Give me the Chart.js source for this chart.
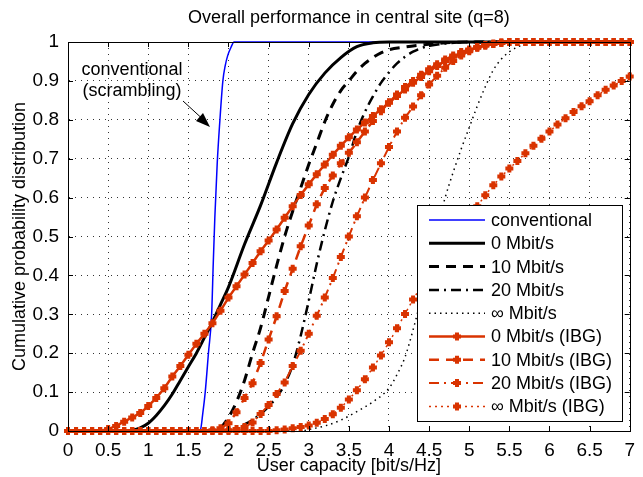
<!DOCTYPE html>
<html>
<head>
<meta charset="utf-8">
<script src="https://cdn.jsdelivr.net/npm/chart.js@4"></script>
<style>
  html, body { margin: 0; padding: 0; background: #fff; }
  #wrap { width: 643px; height: 477px; }
</style>
</head>
<body>
<div id="wrap"><canvas id="cdfChart" width="643" height="477"></canvas></div>
<script>
/* curvas CDF de capacidad por usuario (sitio central, q=8) */

// eje x compartido de las curvas IBG (un marcador por punto)
const capX = [
    0, 0.1, 0.2, 0.3, 0.4, 0.5, 0.6, 0.7, 0.8, 0.9,
    1, 1.1, 1.2, 1.3, 1.4, 1.5, 1.6, 1.7, 1.8, 1.9,
    2, 2.1, 2.2, 2.3, 2.4, 2.5, 2.6, 2.7, 2.8, 2.9,
    3, 3.1, 3.2, 3.3, 3.4, 3.5, 3.6, 3.7, 3.8, 3.9,
    4, 4.1, 4.2, 4.3, 4.4, 4.5, 4.6, 4.7, 4.8, 4.9,
    5, 5.1, 5.2, 5.3, 5.4, 5.5, 5.6, 5.7, 5.8, 5.9,
    6, 6.1, 6.2, 6.3, 6.4, 6.5, 6.6, 6.7, 6.8, 6.9,
    7
];

const ibg0 = [
    0, 0, 0, 0, 0, 0.005, 0.013, 0.024, 0.035, 0.046,
    0.064, 0.085, 0.11, 0.14, 0.167, 0.196, 0.224, 0.25, 0.277, 0.309,
    0.343, 0.372, 0.402, 0.432, 0.462, 0.49, 0.518, 0.548, 0.578, 0.607,
    0.634, 0.66, 0.685, 0.71, 0.733, 0.755, 0.775, 0.793, 0.81, 0.827,
    0.844, 0.861, 0.878, 0.895, 0.91, 0.925, 0.938, 0.951, 0.962, 0.971,
    0.979, 0.986, 0.991, 0.995, 0.998, 1, 1, 1, 1, 1,
    1, 1, 1, 1, 1, 1, 1, 1, 1, 1,
    1
];

const ibg10 = [
    0, 0, 0, 0, 0, 0, 0, 0, 0, 0,
    0, 0, 0, 0, 0, 0, 0, 0, 0.002, 0.007,
    0.02, 0.048, 0.085, 0.123, 0.175, 0.235, 0.295, 0.36, 0.417, 0.475,
    0.528, 0.583, 0.625, 0.657, 0.688, 0.715, 0.742, 0.77, 0.797, 0.822,
    0.845, 0.865, 0.884, 0.9, 0.916, 0.93, 0.943, 0.955, 0.965, 0.974,
    0.981, 0.987, 0.992, 0.996, 0.999, 1, 1, 1, 1, 1,
    1, 1, 1, 1, 1, 1, 1, 1, 1, 1,
    1
];

const ibg20 = [
    0, 0, 0, 0, 0, 0, 0, 0, 0, 0,
    0, 0, 0, 0, 0, 0, 0, 0, 0, 0,
    0.002, 0.005, 0.01, 0.022, 0.044, 0.067, 0.095, 0.125, 0.167, 0.206,
    0.25, 0.296, 0.343, 0.393, 0.447, 0.5, 0.552, 0.6, 0.645, 0.688,
    0.73, 0.77, 0.805, 0.834, 0.863, 0.891, 0.913, 0.934, 0.951, 0.965,
    0.976, 0.985, 0.991, 0.995, 0.998, 1, 1, 1, 1, 1,
    1, 1, 1, 1, 1, 1, 1, 1, 1, 1,
    1
];

const ibgInf = [
    0, 0, 0, 0, 0, 0, 0, 0, 0, 0,
    0, 0, 0, 0, 0, 0, 0, 0, 0, 0,
    0, 0, 0, 0, 0, 0, 0.002, 0.004, 0.007, 0.01,
    0.014, 0.021, 0.031, 0.043, 0.06, 0.081, 0.105, 0.133, 0.163, 0.194,
    0.228, 0.264, 0.301, 0.338, 0.372, 0.405, 0.437, 0.468, 0.497, 0.525,
    0.552, 0.578, 0.606, 0.632, 0.654, 0.675, 0.694, 0.714, 0.733, 0.751,
    0.77, 0.788, 0.804, 0.82, 0.835, 0.848, 0.863, 0.877, 0.888, 0.9,
    0.911
];

// curvas sin marcadores, cada una con su propio eje x
const convX = [0, 1.6, 1.65, 1.68, 1.71, 1.75, 1.79, 1.81, 1.83, 1.86, 1.89, 1.93, 1.96, 1.99, 2.03, 2.07, 7];
const convY = [0, 0, 0.003, 0.046, 0.1, 0.2, 0.3, 0.43, 0.55, 0.69, 0.79, 0.9, 0.94, 0.965, 0.986, 1, 1];

const mb0X = [0, 0.7, 0.8, 0.9, 1.0, 1.1, 1.2, 1.3, 1.4, 1.5, 1.6, 1.7, 1.8, 1.9, 2.0, 2.2, 2.4, 2.6, 2.8, 3.0, 3.2, 3.4, 3.6, 3.8, 4.0, 7];
const mb0Y = [0, 0, 0.002, 0.008, 0.02, 0.04, 0.065, 0.095, 0.13, 0.165, 0.2, 0.24, 0.28, 0.325, 0.37, 0.48, 0.58, 0.69, 0.79, 0.865, 0.92, 0.96, 0.988, 0.998, 1, 1];

const mb10X = [0, 1.8, 1.9, 2.0, 2.1, 2.2, 2.3, 2.4, 2.5, 2.6, 2.7, 2.8, 2.9, 3.0, 3.1, 3.2, 3.3, 3.4, 3.5, 3.6, 3.7, 3.8, 3.9, 4.0, 4.2, 4.4, 4.7, 5.0, 7];
const mb10Y = [0, 0, 0.008, 0.035, 0.075, 0.13, 0.2, 0.265, 0.345, 0.425, 0.5, 0.565, 0.625, 0.685, 0.74, 0.795, 0.84, 0.875, 0.9, 0.925, 0.945, 0.96, 0.972, 0.98, 0.987, 0.992, 0.998, 1, 1];

const mb20X = [0, 2.0, 2.1, 2.2, 2.3, 2.4, 2.5, 2.6, 2.7, 2.8, 2.9, 3.0, 3.1, 3.2, 3.3, 3.4, 3.5, 3.6, 3.7, 3.8, 3.9, 4.0, 4.1, 4.2, 4.3, 4.4, 4.5, 4.7, 5.0, 7];
const mb20Y = [0, 0, 0.008, 0.017, 0.028, 0.044, 0.063, 0.087, 0.12, 0.17, 0.245, 0.335, 0.43, 0.515, 0.59, 0.65, 0.705, 0.77, 0.82, 0.86, 0.895, 0.922, 0.945, 0.962, 0.975, 0.984, 0.99, 0.996, 1, 1];

const mbInfX = [0, 2.9, 3.0, 3.2, 3.4, 3.6, 3.8, 4.0, 4.1, 4.2, 4.3, 4.4, 4.5, 4.6, 4.7, 4.8, 4.9, 5.0, 5.1, 5.2, 5.3, 5.4, 5.5, 5.6, 5.7, 5.8, 7];
const mbInfY = [0, 0, 0.004, 0.013, 0.028, 0.05, 0.075, 0.11, 0.145, 0.19, 0.26, 0.34, 0.43, 0.52, 0.6, 0.665, 0.725, 0.78, 0.835, 0.885, 0.928, 0.956, 0.975, 0.987, 0.995, 1, 1];

const seriesLabels = [
    'conventional', '0 Mbit/s', '10 Mbit/s', '20 Mbit/s', '\u221E Mbit/s',
    '0 Mbit/s (IBG)', '10 Mbit/s (IBG)', '20 Mbit/s (IBG)', '\u221E Mbit/s (IBG)'
];

const xTicks = [0, 0.5, 1, 1.5, 2, 2.5, 3, 3.5, 4, 4.5, 5, 5.5, 6, 6.5, 7];
const yTicks = [0, 0.1, 0.2, 0.3, 0.4, 0.5, 0.6, 0.7, 0.8, 0.9, 1];

const RED = 'rgb(217,51,0)';
const FONT = '"Liberation Sans", Arial, Helvetica, sans-serif';

function toPoints(xs, ys) {
    return xs.map((x, i) => ({ x: x, y: ys[i] }));
}

function blackLine(label, xs, ys, width, dash) {
    return {
        label: label,
        data: toPoints(xs, ys),
        borderColor: '#000',
        borderWidth: width,
        borderDash: dash,
        pointRadius: 0,
        cubicInterpolationMode: 'monotone',
        clip: false
    };
}

function redLine(label, ys, dash, width) {
    return {
        label: label,
        data: toPoints(capX, ys),
        borderColor: RED,
        borderWidth: width,
        borderDash: dash,
        pointStyle: 'cross',
        pointRadius: 4,
        pointBorderWidth: 4,
        pointBorderColor: RED,
        pointBackgroundColor: RED,
        clip: false
    };
}

const datasets = [
    {
        label: seriesLabels[0],
        data: toPoints(convX, convY),
        borderColor: '#0000ff',
        borderWidth: 1.5,
        pointRadius: 0,
        cubicInterpolationMode: 'monotone',
        clip: false
    },
    blackLine(seriesLabels[1], mb0X, mb0Y, 3, []),
    blackLine(seriesLabels[2], mb10X, mb10Y, 3, [10, 7]),
    blackLine(seriesLabels[3], mb20X, mb20Y, 2.5, [10, 5, 2, 5]),
    blackLine(seriesLabels[4], mbInfX, mbInfY, 1.5, [1.5, 4]),
    redLine(seriesLabels[5], ibg0, [], 2.5),
    redLine(seriesLabels[6], ibg10, [10, 7], 2.5),
    redLine(seriesLabels[7], ibg20, [10, 5, 2, 5], 2),
    redLine(seriesLabels[8], ibgInf, [2, 4], 1.5)
];

// lo ultimo graficado queda arriba (como en matlab)
datasets.forEach((ds, i) => { ds.order = datasets.length - 1 - i; });

// marco, marcas internas, textos, flecha y leyenda
const decorPlugin = {
    id: 'decor',
    afterDraw(chart) {
        const ctx = chart.ctx;
        const area = chart.chartArea;
        const xs = chart.scales.x;
        const ys = chart.scales.y;

        ctx.save();

        // caja completa
        ctx.strokeStyle = '#000';
        ctx.lineWidth = 1;
        ctx.setLineDash([]);
        ctx.strokeRect(Math.round(area.left) + 0.5, Math.round(area.top) + 0.5,
            Math.round(area.right - area.left), Math.round(area.bottom - area.top));

        // marcas hacia dentro
        ctx.beginPath();
        xTicks.forEach(v => {
            const px = Math.round(xs.getPixelForValue(v)) + 0.5;
            ctx.moveTo(px, area.bottom); ctx.lineTo(px, area.bottom - 5);
            ctx.moveTo(px, area.top); ctx.lineTo(px, area.top + 5);
        });
        yTicks.forEach(v => {
            const py = Math.round(ys.getPixelForValue(v)) + 0.5;
            ctx.moveTo(area.left, py); ctx.lineTo(area.left + 5, py);
            ctx.moveTo(area.right, py); ctx.lineTo(area.right - 5, py);
        });
        ctx.stroke();

        // titulos
        ctx.fillStyle = '#000';
        ctx.font = '18px ' + FONT;
        ctx.textAlign = 'center';
        ctx.textBaseline = 'middle';
        ctx.fillText('Overall performance in central site (q=8)', (area.left + area.right) / 2, 18);
        ctx.fillText('User capacity [bit/s/Hz]', (area.left + area.right) / 2, 466);

        ctx.save();
        ctx.translate(20, (area.top + area.bottom) / 2);
        ctx.rotate(-Math.PI / 2);
        ctx.fillText('Cumulative probability distribution', 0, 0);
        ctx.restore();

        // anotacion con flecha
        ctx.fillText('conventional', 132, 70);
        ctx.fillText('(scrambling)', 132, 91);
        ctx.beginPath();
        ctx.moveTo(183, 101);
        ctx.lineTo(207, 123);
        ctx.lineWidth = 1;
        ctx.stroke();
        ctx.beginPath();
        ctx.moveTo(210, 127);
        ctx.lineTo(196, 121);
        ctx.lineTo(203, 113);
        ctx.closePath();
        ctx.fill();

        // leyenda
        const box = { x: 417.5, y: 205.5, w: 205, h: 216 };
        ctx.fillStyle = '#fff';
        ctx.fillRect(box.x, box.y, box.w, box.h);
        ctx.strokeStyle = '#000';
        ctx.lineWidth = 1;
        ctx.strokeRect(box.x, box.y, box.w, box.h);

        ctx.textAlign = 'left';
        datasets.forEach((ds, i) => {
            const ry = 220 + i * 23.3;
            ctx.save();
            ctx.strokeStyle = ds.borderColor;
            ctx.lineWidth = ds.borderWidth;
            ctx.setLineDash(ds.borderDash || []);
            ctx.beginPath();
            ctx.moveTo(429, ry);
            ctx.lineTo(485, ry);
            ctx.stroke();
            if (ds.pointStyle === 'cross') {
                ctx.setLineDash([]);
                ctx.lineWidth = ds.pointBorderWidth;
                ctx.beginPath();
                ctx.moveTo(457 - 4, ry); ctx.lineTo(457 + 4, ry);
                ctx.moveTo(457, ry - 4); ctx.lineTo(457, ry + 4);
                ctx.stroke();
            }
            ctx.restore();
            ctx.fillStyle = '#000';
            ctx.fillText(ds.label, 491, ry + 1);
        });

        ctx.restore();
    }
};

function renderCdfChart() {
    const canvas = document.getElementById('cdfChart');

    new Chart(canvas, {
        type: 'line',
        data: { datasets: datasets },
        options: {
            responsive: false,
            animation: false,
            devicePixelRatio: 1,
            events: [],
            layout: {
                padding: { top: 42, right: 11, left: 0, bottom: 0 }
            },
            plugins: {
                legend: { display: false },
                title: { display: false },
                tooltip: { enabled: false }
            },
            scales: {
                x: {
                    type: 'linear',
                    min: 0,
                    max: 7,
                    afterFit: s => { s.height = 46; },
                    afterBuildTicks: s => { s.ticks = xTicks.map(v => ({ value: v })); },
                    ticks: {
                        color: '#000',
                        padding: 8,
                        maxRotation: 0,
                        autoSkip: false,
                        font: { family: FONT, size: 19 },
                        callback: v => String(v)
                    },
                    grid: {
                        color: '#333',
                        lineWidth: 1,
                        drawTicks: false
                    },
                    border: { display: true, color: '#000', width: 1, dash: [1, 5] }
                },
                y: {
                    type: 'linear',
                    min: 0,
                    max: 1,
                    afterFit: s => { s.width = 68; },
                    afterBuildTicks: s => { s.ticks = yTicks.map(v => ({ value: v })); },
                    ticks: {
                        color: '#000',
                        padding: 9,
                        autoSkip: false,
                        font: { family: FONT, size: 19 },
                        callback: v => String(v)
                    },
                    grid: {
                        color: '#333',
                        lineWidth: 1,
                        drawTicks: false
                    },
                    border: { display: true, color: '#000', width: 1, dash: [1, 5] }
                }
            }
        },
        plugins: [decorPlugin]
    });
}

renderCdfChart();
</script>
</body>
</html>
